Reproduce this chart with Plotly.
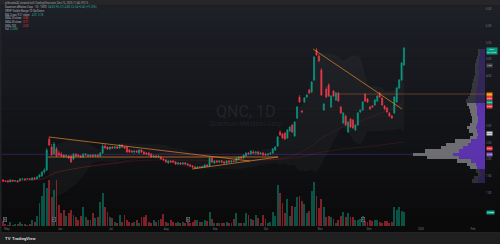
import numpy as np
import pandas as pd
import plotly.graph_objects as go

W, H = 500, 244
def px(x): return x / W
def py(y): return 1 - y / H

# ---------------- data ----------------
opens = [1.38,1.35,1.35,1.32,1.38,1.35,1.35,1.35,1.41,1.41,
         1.41,1.42,1.38,1.44,1.41,1.47,1.50,1.62,1.68,2.61,
         2.37,2.16,2.31,2.19,2.16,2.13,2.10,2.10,2.10,2.01,
         2.16,2.13,2.10,2.07,2.13,2.13,2.10,2.13,2.10,2.13,
         2.10,2.19,2.40,2.37,2.31,2.37,2.34,2.37,2.34,2.43,
         2.37,2.37,2.28,2.25,2.22,2.25,2.19,2.28,2.22,2.19,
         2.19,2.16,2.07,2.10,2.07,2.07,2.01,1.98,1.89,1.95,
         1.95,1.92,1.86,1.89,1.86,1.89,1.86,1.83,1.80,1.77,
         1.74,1.77,1.76,1.77,1.83,1.80,2.04,1.89,1.95,1.92,
         1.95,1.92,1.89,1.95,1.92,1.95,1.94,2.01,2.07,2.04,
         2.10,2.19,2.16,2.22,2.19,2.22,2.16,2.19,2.16,2.13,
         2.16,2.19,2.28,2.40,2.82,2.76,2.79,2.64,2.85,3.03,
         2.70,3.24,3.87,3.45,3.72,3.87,4.08,4.02,4.38,5.28,
         5.10,4.68,3.48,4.11,4.23,3.57,4.05,3.78,3.99,3.57,
         3.09,3.30,2.82,3.21,3.18,2.88,3.03,3.42,3.48,3.96,
         3.81,3.57,3.60,3.63,3.75,3.99,3.84,3.60,3.54,3.39,
         3.30,3.39,3.72,4.14,4.38,4.83]
highs = [1.41,1.38,1.38,1.41,1.38,1.38,1.38,1.44,1.44,1.44,
         1.44,1.44,1.47,1.47,1.50,1.56,1.65,1.74,2.34,2.67,
         2.46,2.52,2.37,2.25,2.22,2.16,2.16,2.13,2.13,2.19,
         2.19,2.16,2.13,2.19,2.19,2.16,2.16,2.16,2.16,2.16,
         2.22,2.49,2.46,2.40,2.40,2.40,2.40,2.40,2.46,2.46,
         2.40,2.40,2.31,2.28,2.28,2.28,2.31,2.31,2.25,2.22,
         2.22,2.19,2.13,2.13,2.13,2.10,2.04,2.01,1.98,1.98,
         1.98,1.95,1.92,1.92,1.92,1.92,1.89,1.86,1.83,1.80,
         1.80,1.80,1.80,1.86,1.86,2.10,2.07,1.98,1.98,1.98,
         1.98,1.95,1.98,1.98,1.98,1.98,2.07,2.10,2.10,2.16,
         2.22,2.22,2.28,2.28,2.25,2.25,2.22,2.22,2.19,2.19,
         2.22,2.34,2.40,2.70,2.88,2.79,2.82,2.91,3.00,3.06,
         3.15,3.60,3.93,3.48,3.87,3.96,4.11,4.35,5.10,5.34,
         5.16,4.74,3.69,4.17,4.29,3.93,4.08,4.02,4.02,3.60,
         3.42,3.33,3.15,3.24,3.21,3.06,3.42,3.51,3.75,3.99,
         3.84,3.60,3.63,3.81,3.93,4.02,3.87,3.63,3.57,3.42,
         3.33,3.90,4.17,4.41,4.92,5.37]
lows = [1.32,1.32,1.32,1.32,1.32,1.32,1.32,1.35,1.38,1.38,
        1.38,1.38,1.38,1.38,1.41,1.44,1.47,1.56,1.65,2.40,
        2.10,2.13,2.07,2.10,2.07,2.04,2.04,2.01,1.89,1.98,
        2.07,2.07,2.04,2.04,2.10,2.07,2.07,2.07,2.07,2.07,
        2.07,2.16,2.31,2.28,2.28,2.31,2.31,2.31,2.31,2.34,
        2.31,2.19,2.19,2.19,2.16,2.19,2.16,2.19,2.13,2.13,
        2.10,2.04,2.04,2.04,2.04,1.98,1.95,1.89,1.86,1.89,
        1.89,1.83,1.83,1.83,1.83,1.83,1.80,1.77,1.74,1.71,
        1.71,1.74,1.74,1.74,1.77,1.77,1.89,1.86,1.89,1.89,
        1.89,1.86,1.86,1.89,1.89,1.92,1.92,1.98,2.01,2.01,
        2.07,2.13,2.13,2.16,2.13,2.13,2.13,2.10,2.10,2.10,
        2.13,2.16,2.25,2.37,2.70,2.61,2.58,2.61,2.82,2.79,
        2.67,3.21,3.69,3.39,3.69,3.84,3.96,3.99,4.35,5.10,
        4.92,3.90,3.45,3.84,3.87,3.54,3.87,3.75,3.72,3.36,
        3.06,3.00,2.79,2.94,2.91,2.85,3.00,3.39,3.45,3.72,
        3.69,3.48,3.54,3.60,3.72,3.84,3.60,3.48,3.39,3.27,
        3.21,3.36,3.69,4.11,4.35,4.80]
closes = [1.35,1.34,1.32,1.38,1.35,1.36,1.32,1.41,1.42,1.38,
          1.42,1.40,1.44,1.41,1.47,1.53,1.62,1.68,2.28,2.43,
          2.13,2.46,2.10,2.13,2.10,2.07,2.11,2.04,1.92,2.16,
          2.10,2.10,2.07,2.16,2.16,2.10,2.13,2.10,2.13,2.10,
          2.19,2.40,2.34,2.31,2.37,2.34,2.37,2.34,2.43,2.37,
          2.34,2.22,2.22,2.22,2.25,2.22,2.28,2.22,2.16,2.16,
          2.13,2.07,2.10,2.07,2.10,2.01,1.98,1.92,1.95,1.92,
          1.92,1.86,1.89,1.86,1.89,1.86,1.83,1.80,1.77,1.74,
          1.77,1.76,1.79,1.83,1.80,2.04,1.92,1.95,1.92,1.95,
          1.92,1.89,1.95,1.92,1.95,1.94,2.04,2.07,2.04,2.13,
          2.19,2.16,2.25,2.19,2.22,2.16,2.19,2.13,2.13,2.16,
          2.19,2.31,2.37,2.67,2.73,2.64,2.61,2.88,2.97,2.82,
          3.12,3.57,3.72,3.42,3.84,3.93,3.99,4.32,5.07,5.13,
          4.95,3.93,3.66,3.87,3.90,3.90,3.90,3.99,3.75,3.39,
          3.39,3.03,3.12,2.97,2.94,3.03,3.39,3.48,3.72,3.75,
          3.72,3.51,3.57,3.78,3.90,3.87,3.63,3.51,3.42,3.30,
          3.24,3.87,4.14,4.38,4.89,5.34]
volumes_m = [1.25,0.5,0.25,1.0,0.25,0.5,0.5,1.0,0.5,0.5,0.25,0.5,1.5,1.0,
             2.5,5.75,7.5,10.75,9.5,11.5,7.25,9.0,11.5,5.25,
             3.25,4.0,2.5,3.25,4.0,2.75,2.25,1.5,2.5,4.75,2.25,1.5,1.5,3.25,2.0,2.25,
             6.0,8.25,4.75,3.5,2.25,2.0,1.0,0.75,2.75,1.0,2.75,1.5,1.0,0.75,1.0,1.5,0.75,2.25,2.25,2.75,
             1.0,0.75,1.5,1.0,1.5,1.75,3.0,1.0,0.75,1.5,1.0,0.75,1.0,0.75,1.0,0.75,1.0,0.75,1.0,1.5,
             1.5,1.0,1.0,1.5,1.25,3.5,1.75,0.75,0.75,0.75,0.75,0.75,1.0,0.75,0.75,1.75,3.25,0.75,0.75,0.75,3.25,2.75,1.75,
             1.5,2.75,2.0,0.75,2.75,1.75,0.75,1.0,3.5,2.5,10.25,8.25,5.75,3.25,6.75,2.5,5.0,4.75,7.25,7.5,6.25,5.5,3.25,3.75,8.75,11.0,7.5,
             4.5,6.75,4.75,2.25,2.5,2.25,1.75,0.75,1.5,2.5,3.5,2.25,3.25,2.25,2.25,1.5,1.5,1.75,2.5,1.25,1.0,1.5,1.25,1.5,1.5,1.0,0.75,1.25,1.25,0.75,1.0,
             4.75,4.0,4.75,3.75,3.5]

month_pos = [1.6, 23.5, 44.4, 67.1, 87.2, 108.2, 130.5, 150.6, 172.0, 193.4]
month_labels = ["May", "Jun", "Jul", "Aug", "Sep", "Oct", "Nov", "Dec", "2026", "Feb"]
price_ticks = [0.5, 1.0, 1.5, 2.0, 2.5, 3.0, 3.5, 4.0, 4.5, 5.0, 5.5, 6.0, 6.5]

# visible-range volume profile rows (price centre, up vol, down vol; thousands)
vp_prices = [1.35,1.45,1.55,1.65,1.75,1.85,1.95,2.05,2.15,2.25,
             2.35,2.45,2.55,2.65,2.75,2.85,2.95,3.05,3.15,3.25,
             3.35,3.45,3.55,3.65,3.75,3.85,3.95,4.05,4.15,4.25,
             4.35,4.45,4.55,4.65,4.75,4.85,4.95,5.05,5.15,5.25]
vp_up = [350,300,200,250,400,450,700,1300,1600,1300,
         1100,850,700,400,350,400,450,400,350,350,
         400,400,400,450,500,450,450,400,400,350,
         350,350,300,300,350,300,300,300,250,250]
vp_down = [300,250,150,200,350,450,700,1600,2000,1700,
           1100,1100,800,350,250,400,450,350,300,300,
           300,350,400,450,450,400,300,300,250,300,
           250,200,200,200,150,200,150,100,100,100]

# user drawings: (bar0, price0, bar1, price1)
trend_lines = [(18.9, 2.67, 101.6, 1.95),
               (18.5, 2.07, 113.2, 2.07),
               (77.8, 1.71, 113.2, 2.07),
               (127.6, 5.31, 164.2, 3.51)]
hline_price = 3.96
hline_start = 137.9
event_bars = [1, 21, 76, 148]
# price-scale badges: (price, text, bg, fg)
badges = [(4.83, "4.83", "#434651", "#d1d4dc"),
          (3.84, "3.84", "#f23645", "#ffffff"),
          (3.72, "3.72", "#089981", "#ffffff"),
          (3.60, "3.60", "#f23645", "#ffffff"),
          (2.79, "2.79", "#d1d4dc", "#131722"),
          (2.34, "2.34", "#f23645", "#ffffff")]

# ---------------- derived ----------------
n = len(closes)
idx = np.arange(n)
cs = pd.Series(closes)
sma50 = cs.rolling(50, min_periods=1).mean()
sma200 = cs.rolling(200, min_periods=1).mean()
sma20 = cs.rolling(20, min_periods=1).mean()
bb_mid = cs.rolling(20).mean()
bb_sd = cs.rolling(20).std(ddof=0)
bb_up = bb_mid + 2 * bb_sd
bb_lo = bb_mid - 2 * bb_sd
ma9 = cs.rolling(9).mean().iloc[-1]
ma21 = cs.rolling(21).mean().iloc[-1]

UP, DN = "#089981", "#f23645"
vol_colors = ["rgba(8,153,129,0.5)" if c > o else "rgba(242,54,69,0.5)" for o, c in zip(opens, closes)]

vp_tot = [u + d for u, d in zip(vp_up, vp_down)]
poc_i = int(np.argmax(vp_tot))
poc_price = vp_prices[poc_i]
total = sum(vp_tot)
lo_i = hi_i = poc_i
acc = vp_tot[poc_i]
while acc < 0.7 * total:
    below = vp_tot[lo_i - 1] if lo_i > 0 else -1
    above = vp_tot[hi_i + 1] if hi_i < len(vp_tot) - 1 else -1
    if above >= below:
        hi_i += 1; acc += vp_tot[hi_i]
    else:
        lo_i -= 1; acc += vp_tot[lo_i]
in_va = [lo_i <= k <= hi_i for k in range(len(vp_tot))]
up_cols = ["rgba(103,58,200,0.85)" if v else "rgba(84,56,160,0.45)" for v in in_va]
dn_cols = ["rgba(140,140,146,0.75)" if v else "rgba(110,112,122,0.35)" for v in in_va]

PLOT_TOP, PLOT_BOT = 6, 226
x_dom = [px(2), px(485)]
y_dom = [py(PLOT_BOT), py(PLOT_TOP)]
x_range = [-0.41, 198.33]
y_range = [0, 6.6]
vol_range = [0, 55]
vp_width_frac = 72 / 483
R = max(vp_tot) / vp_width_frac

def price_to_pix(p, rng=y_range):
    return PLOT_BOT - (p - rng[0]) / (rng[1] - rng[0]) * (PLOT_BOT - PLOT_TOP)

# badge pixel positions (to keep axis ticks from colliding with badges)
last_badge_price = closes[-1] - 0.08
badge_pix = [price_to_pix(p) for p, *_ in badges] + [price_to_pix(hline_price), price_to_pix(poc_price),
             price_to_pix(last_badge_price), price_to_pix(volumes_m[-1], vol_range)]
shown_ticks = [t for t in price_ticks if all(abs(price_to_pix(t) - b) > 4.2 for b in badge_pix)]

fig = go.Figure()

bb_ok = ~bb_mid.isna()
fig.add_trace(go.Scatter(x=idx[bb_ok], y=bb_up[bb_ok], mode="lines", line=dict(width=0, color="rgba(0,0,0,0)"), hoverinfo="skip"))
fig.add_trace(go.Scatter(x=idx[bb_ok], y=bb_lo[bb_ok], mode="lines", line=dict(width=0, color="rgba(0,0,0,0)"),
                         fill="tonexty", fillcolor="rgba(120,123,134,0.07)", hoverinfo="skip"))

fig.add_trace(go.Bar(x=idx, y=volumes_m, marker=dict(color=vol_colors, line=dict(width=0)), width=0.78, yaxis="y2", hoverinfo="skip"))

fig.add_trace(go.Scatter(x=idx, y=sma200, mode="lines", line=dict(color="rgba(242,54,69,0.2)", width=0.7), hoverinfo="skip"))
fig.add_trace(go.Scatter(x=idx, y=sma50, mode="lines", line=dict(color="rgba(242,54,69,0.2)", width=0.7), hoverinfo="skip"))

fig.add_trace(go.Bar(y=vp_prices, x=vp_up, orientation="h", width=0.1, xaxis="x2",
                     marker=dict(color=up_cols, line=dict(width=0)), hoverinfo="skip"))
fig.add_trace(go.Bar(y=vp_prices, x=vp_down, base=vp_up, orientation="h", width=0.1, xaxis="x2",
                     marker=dict(color=dn_cols, line=dict(width=0)), hoverinfo="skip"))
fig.add_trace(go.Scatter(x=[R, vp_tot[poc_i]], y=[poc_price, poc_price], xaxis="x2", mode="lines",
                         line=dict(color="rgba(103,58,183,0.4)", width=0.9), hoverinfo="skip"))

fig.add_trace(go.Candlestick(x=idx, open=opens, high=highs, low=lows, close=closes,
                             increasing=dict(line=dict(color=UP, width=0.6), fillcolor=UP),
                             decreasing=dict(line=dict(color=DN, width=0.6), fillcolor=DN),
                             whiskerwidth=0, hoverinfo="skip"))

shapes = []
top = np.array([30, 32, 39]); bot = np.array([10, 10, 11])
steps = 30
for k in range(steps):
    t = k / (steps - 1)
    c = (top * (1 - t) + bot * t).astype(int)
    y0 = 5.5 + k * (232 - 5.5) / steps
    y1 = 5.5 + (k + 1) * (232 - 5.5) / steps + 0.5
    shapes.append(dict(type="rect", xref="paper", yref="paper", x0=0, x1=1, y0=py(y1), y1=py(y0),
                       fillcolor=f"rgb({c[0]},{c[1]},{c[2]})", line=dict(width=0), layer="below"))
shapes.append(dict(type="rect", xref="paper", yref="paper", x0=0, x1=1, y0=py(5.5), y1=1,
                   fillcolor="#262628", line=dict(width=0), layer="below"))
shapes.append(dict(type="rect", xref="paper", yref="paper", x0=0, x1=1, y0=0, y1=py(232.5),
                   fillcolor="#1f1f1f", line=dict(width=0), layer="below"))
shapes.append(dict(type="rect", xref="paper", yref="paper", x0=0, x1=px(1.5), y0=py(232.5), y1=py(5.5),
                   fillcolor="#232326", line=dict(width=0), layer="below"))
shapes.append(dict(type="line", xref="paper", yref="paper", x0=0, x1=1, y0=py(232.5), y1=py(232.5),
                   line=dict(color="#2e2e30", width=0.6)))
for (a0, p0, a1, p1) in trend_lines:
    shapes.append(dict(type="line", xref="x", yref="y", x0=a0, y0=p0, x1=a1, y1=p1,
                       line=dict(color="rgba(240,140,40,0.85)", width=0.8)))
shapes.append(dict(type="line", xref="x", yref="y", x0=hline_start, y0=hline_price, x1=x_range[1], y1=hline_price,
                   line=dict(color="rgba(200,110,30,0.7)", width=0.6)))

ann = []
FONT = "Roboto, Liberation Sans, sans-serif"
GRAY = "#b2b5be"
def txt(x, y, s, color=GRAY, size=2.7, anchor="left", **kw):
    d = dict(x=px(x), y=py(y), xref="paper", yref="paper", text=s, showarrow=False,
             xanchor=anchor, yanchor="middle", font=dict(family=FONT, size=size, color=color))
    d.update(kw)
    ann.append(d)

txt(3, 2.8, "ptlbrooks42 created with TradingView.com, Dec 16, 2025 11:46 UTC-5", color="#a0a3ab", size=2.7)
txt(3, 7.3, "Quantum eMotion Corp · 1D · TSXV", size=2.7)
txt(46, 7.3, f"O{opens[-1]:.2f} H{highs[-1]:.2f} L{lows[-1]:.2f} C{closes[-1]:.2f} {closes[-1]-closes[-2]:+.2f} ({(closes[-1]/closes[-2]-1)*100:+.2f}%)",
    color="#22ab94", size=2.7)
txt(3, 11.0, "VRVP Visible Range 70 Up/Down", size=2.7)
txt(3, 14.7, "MA Cross 9 21 close", size=2.7)
txt(30, 14.7, f"{ma9:.2f} {ma21:.2f}", color="#22ab94", size=2.7)
txt(3, 18.5, "SMA 20 close", size=2.7)
txt(21, 18.5, f"{sma20.iloc[-1]:.2f}", color=DN, size=2.7)
txt(3, 22.2, "SMA 50 close", size=2.7)
txt(21, 22.2, f"{sma50.iloc[-1]:.2f}", color=DN, size=2.7)
txt(3, 25.9, "SMA 200 ", size=2.7)
txt(21, 25.9, f"{sma200.iloc[-1]:.2f}", color=DN, size=2.7)
txt(3, 29.4, "Vol", size=2.7)
txt(8, 29.4, f"{volumes_m[-1]:.2f}M", color="#22ab94", size=2.7)

txt(245, 111, "QNC, 1D", color="rgba(120,123,134,0.16)", size=16, anchor="center")
txt(245, 124, "Quantum eMotion Corp", color="rgba(120,123,134,0.16)", size=7, anchor="center")

txt(3, 238.3, "<b>TV</b>", color="#d1d4dc", size=4.2)
txt(9.5, 238.3, "<b>TradingView</b>", color="#d1d4dc", size=4.2)

for b in event_bars:
    ann.append(dict(x=b, y=py(222), xref="x", yref="paper", text="E", showarrow=False,
                    font=dict(family=FONT, size=2.4, color="#b2b5be"), bgcolor="#2a2e39",
                    bordercolor="#787b86", borderwidth=0.5, borderpad=0.3))

def badge(yv, s, bg, fg, yref="y", size=2.5):
    ann.append(dict(x=px(486), y=yv, xref="paper", yref=yref, text=s, showarrow=False,
                    xanchor="left", yanchor="middle", bgcolor=bg, borderpad=0,
                    font=dict(family=FONT, size=size, color=fg)))
badge(last_badge_price, f"{closes[-1]:.2f}<br>07:13:45", UP, "#ffffff", size=2.3)
for (p, s, bg, fg) in badges:
    badge(p, s, bg, fg)
badge(hline_price, f"{hline_price:.2f}", "#f57c00", "#ffffff")
badge(poc_price, f"{poc_price:.2f}", "#7e57c2", "#ffffff")
badge(volumes_m[-1], f"{volumes_m[-1]:.2f}M", UP, "#ffffff", yref="y2")

fig.update_layout(
    width=W, height=H, margin=dict(l=0, r=0, t=0, b=0),
    paper_bgcolor="#0b0b0c", plot_bgcolor="rgba(0,0,0,0)",
    showlegend=False, barmode="overlay", bargap=0,
    shapes=shapes, annotations=ann,
    font=dict(family=FONT),
    xaxis=dict(domain=x_dom, range=x_range, showgrid=False, zeroline=False, showline=False,
               tickmode="array", tickvals=month_pos, ticktext=month_labels, ticks="",
               tickfont=dict(size=2.7, color="#787b86"), rangeslider=dict(visible=False), fixedrange=True),
    xaxis2=dict(overlaying="x", anchor="y", range=[R, 0], visible=False),
    yaxis=dict(domain=y_dom, range=y_range, side="right", showgrid=False, zeroline=False, showline=False,
               tickmode="array", tickvals=shown_ticks, ticktext=[f"{v:.2f}" for v in shown_ticks],
               ticks="", tickfont=dict(size=2.7, color="#787b86")),
    yaxis2=dict(overlaying="y", range=vol_range, visible=False),
)

fig.write_html("out.html")
